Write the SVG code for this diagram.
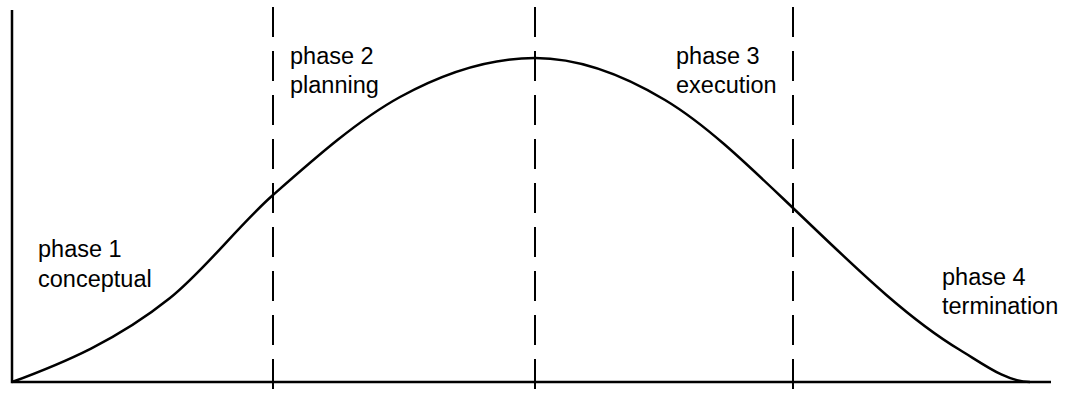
<svg xmlns="http://www.w3.org/2000/svg" width="1065" height="394" viewBox="0 0 1065 394">
<style>
.axis{stroke:#000;stroke-width:2.5;fill:none}
.curve{stroke:#000;stroke-width:2.5;fill:none}
.div{stroke:#000;stroke-width:2;stroke-dasharray:30 14;fill:none}
.lbl{font-family:"Liberation Sans",Arial,sans-serif;font-size:23.5px;fill:#000}
</style>
<rect width="1065" height="394" fill="#fff"/>
<g id="connectors">
<path class="axis" d="M12,10 V382 H1051"/>
<path class="div" d="M273,7 V394"/>
<path class="div" d="M535,7 V394"/>
<path class="div" d="M793,7 V394"/>
<path class="curve" d="M12,382 C64.7,362.5 117.3,340.2 170,298 C204.3,270.6 238.7,225.2 273,195 C315.3,157.8 357.7,120.3 400,97 C445,72.25 490,58 535,58 C578.3,58 621.7,74 665,100 C707.7,125.6 750.3,167.4 793,208 C848.7,260.9 904.3,316.6 960,350 C983.3,364 1006.7,382 1030,382"/>
</g>
<g id="phase1"><text class="lbl" x="38" y="257">phase 1</text><text class="lbl" x="38" y="287">conceptual</text></g>
<g id="phase2"><text class="lbl" x="290" y="64">phase 2</text><text class="lbl" x="290" y="93">planning</text></g>
<g id="phase3"><text class="lbl" x="676" y="64">phase 3</text><text class="lbl" x="676" y="93">execution</text></g>
<g id="phase4"><text class="lbl" x="942" y="285">phase 4</text><text class="lbl" x="942" y="314">termination</text></g>
</svg>
